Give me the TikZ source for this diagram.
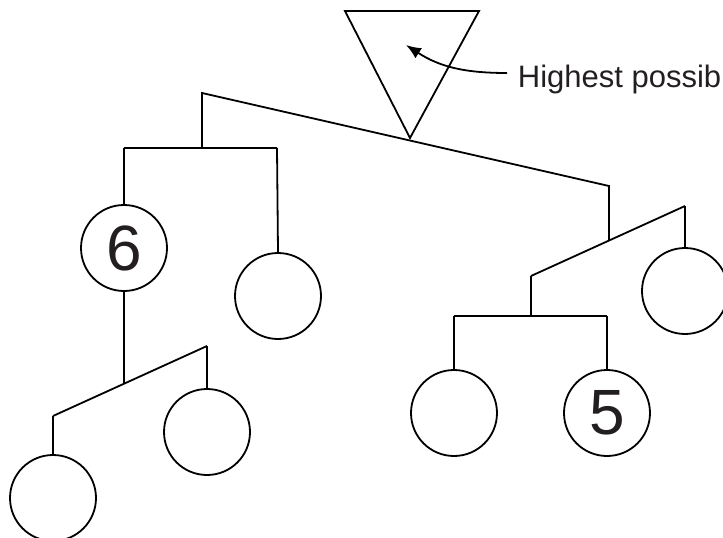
\documentclass[tikz,border=0pt]{standalone}
\usepackage{fontspec}
\setmainfont{Liberation Sans}
\usetikzlibrary{arrows.meta}
\definecolor{ink}{HTML}{231F20}
\begin{document}
\begin{tikzpicture}[x=1pt,y=-1pt,line width=1.8pt,line join=miter,
  leaf/.style={draw,circle,minimum size=86pt,inner sep=0pt,font=\fontsize{64}{64}\selectfont,text=ink},
  link/.style={draw}]
\useasboundingbox (0,0) rectangle (723,538);
% triangle
\draw (345,11) -- (479,11) -- (410,138) -- cycle;
% label and arrow
\node[anchor=base west,inner sep=0pt,font=\fontsize{31}{31}\selectfont,text=ink] (lab) at (517,87) {Highest possib};
\coordinate (as) at (507,73);
\coordinate (at) at (406,45);
\draw[-{Latex[length=15pt,width=12pt]}] (as) .. controls (465,73) and (440,67) .. (at);
% junctions
\coordinate (top) at (202,93);
\coordinate (topR) at (609,186);
\coordinate (jL) at (202,148);
\coordinate (hL1) at (124,148);
\coordinate (hL2) at (277,148);
\coordinate (sL1) at (53,416);
\coordinate (sL2) at (207,346);
\coordinate (jLL) at (124,383);
\coordinate (jR) at (609,240);
\coordinate (sR1) at (531,276);
\coordinate (sR2) at (685,206);
\coordinate (jRR) at (531,316);
\coordinate (hR1) at (454,316);
\coordinate (hR2) at (607,316);
% circles
\node[leaf] (c6) at (124,248) {6};
\node[leaf] (cA) at (278,296) {};
\node[leaf] (cB) at (53,498) {};
\node[leaf] (cC) at (207,432) {};
\node[leaf] (cD) at (685,291) {};
\node[leaf] (cE) at (454,413) {};
\node[leaf] (c5) at (607,413) {5};
% connectors
\draw (jL) -- (top) -- (topR) -- (jR);
\draw (hL1) -- (hL2);
\draw (hL1) -- (c6.north);
\draw (hL2) -- (cA.north);
\draw (c6.south) -- (jLL);
\draw (sL1) -- (sL2);
\draw (sL1) -- (cB.north);
\draw (sL2) -- (cC.north);
\draw (sR1) -- (sR2);
\draw (sR1) -- (jRR);
\draw (sR2) -- (cD.north);
\draw (hR1) -- (hR2);
\draw (hR1) -- (cE.north);
\draw (hR2) -- (c5.north);
\end{tikzpicture}
\end{document}
